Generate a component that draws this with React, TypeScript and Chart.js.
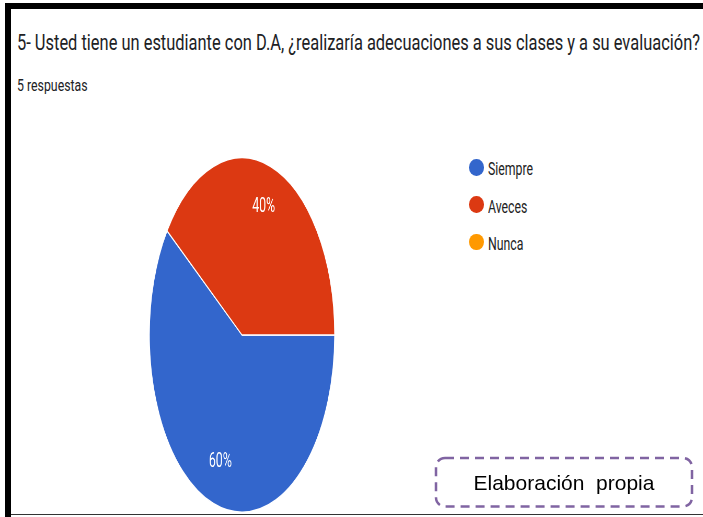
import React, { useEffect, useRef } from "react";
import { Chart, registerables } from "chart.js";

Chart.register(...registerables);

const titleText = "5- Usted tiene un estudiante con D.A, ¿realizaría adecuaciones a sus clases y a su evaluación?";
const subtitleText = "5 respuestas";
const categories = ["Siempre", "Aveces", "Nunca"];
const responses = [3, 2, 0];
const sliceColors = ["#3366cc", "#dc3912", "#ff9900"];
const sourceNote = "Elaboración  propia";

// layout constants
const PIE_RX = 92.5;
const PIE_RY = 177;
const PIE_CX = 241.5;
const PIE_CY = 335;
const PIE_SX = PIE_RX / PIE_RY;
const CANVAS = 356;
const LABEL_R = 0.757;
const LABEL_FONT = "19.5px Roboto";

let measureCtx: CanvasRenderingContext2D | null = null;
function measure(text: string, font: string): number {
  if (!measureCtx) measureCtx = document.createElement("canvas").getContext("2d");
  if (!measureCtx) return 1;
  measureCtx.font = font;
  return measureCtx.measureText(text).width || 1;
}
function fitScale(text: string, font: string, target: number) {
  return target / measure(text, font);
}

function Squeezed(props: { text: string; size: number; target: number; left: number; top: number; color: string }) {
  const font = `${props.size}px Roboto`;
  const k = fitScale(props.text, font, props.target);
  return (
    <div
      style={{
        position: "absolute",
        left: props.left,
        top: props.top,
        fontFamily: "Roboto",
        fontSize: props.size,
        lineHeight: `${props.size}px`,
        color: props.color,
        whiteSpace: "pre",
        transform: `scaleX(${k})`,
        transformOrigin: "0 0",
      }}
    >
      {props.text}
    </div>
  );
}

export default function App() {
  const canvasRef = useRef<HTMLCanvasElement | null>(null);

  useEffect(() => {
    if (!canvasRef.current) return;
    const labelScale = fitScale("40%", LABEL_FONT, 23);
    const total = responses.reduce((a, b) => a + b, 0);
    const labelPlugin = {
      id: "pctLabels",
      afterDatasetsDraw(chart: any) {
        const ctx = chart.ctx as CanvasRenderingContext2D;
        const meta = chart.getDatasetMeta(0);
        const data = chart.data.datasets[0].data as number[];
        meta.data.forEach((arc: any, i: number) => {
          const v = data[i];
          if (!v) return;
          const p = arc.getProps(["x", "y", "startAngle", "endAngle", "outerRadius"], true);
          const a = (p.startAngle + p.endAngle) / 2;
          const px = p.x + Math.cos(a) * p.outerRadius * LABEL_R;
          const py = p.y + Math.sin(a) * p.outerRadius * LABEL_R;
          ctx.save();
          ctx.translate(px, py);
          ctx.scale(labelScale / PIE_SX, 1);
          ctx.font = LABEL_FONT;
          ctx.fillStyle = "#ffffff";
          ctx.textAlign = "center";
          ctx.textBaseline = "middle";
          ctx.fillText(Math.round((v / total) * 100) + "%", 0, 0);
          ctx.restore();
        });
      },
    };
    const chart = new Chart(canvasRef.current, {
      type: "pie",
      data: {
        labels: categories,
        datasets: [
          {
            data: responses,
            backgroundColor: sliceColors,
            borderColor: "#ffffff",
            borderWidth: 1.5,
          },
        ],
      },
      options: {
        responsive: false,
        animation: false,
        rotation: 90,
        layout: { padding: 0 },
        events: [],
        plugins: {
          legend: { display: false },
          tooltip: { enabled: false },
          title: { display: false },
        },
      },
      plugins: [labelPlugin],
    });
    return () => chart.destroy();
  }, []);

  const legendTop = 167.3;
  const legendStep = 37.4;
  const legendScale = fitScale("Siempre", "18.5px Roboto", 45);

  return (
    <div style={{ position: "absolute", left: 0, top: 0, width: 703, height: 517, background: "#fff", overflow: "hidden" }}>
      {/* frame */}
      <div style={{ position: "absolute", left: 5, top: 3, width: 698, height: 6, background: "#000" }} />
      <div style={{ position: "absolute", left: 5, top: 3, width: 6, height: 514, background: "#000" }} />
      <div style={{ position: "absolute", left: 11, top: 514, width: 692, height: 1, background: "#333" }} />

      <Squeezed text={titleText} size={22} target={683} left={16.7} top={32.2} color="#202124" />
      <Squeezed text={subtitleText} size={16.5} target={70.6} left={16.7} top={77.8} color="#202124" />

      <canvas
        ref={canvasRef}
        width={CANVAS}
        height={CANVAS}
        style={{
          position: "absolute",
          left: PIE_CX - CANVAS / 2,
          top: PIE_CY - CANVAS / 2,
          transform: `scaleX(${PIE_SX})`,
          transformOrigin: "50% 50%",
        }}
      />

      {categories.map((c, i) => (
        <React.Fragment key={c}>
          <div
            style={{
              position: "absolute",
              left: 469.4,
              top: legendTop + i * legendStep - 8.3,
              width: 14.6,
              height: 16.6,
              borderRadius: "50%",
              background: sliceColors[i],
            }}
          />
          <div
            style={{
              position: "absolute",
              left: 488,
              top: legendTop + i * legendStep + 8.4 - 0.8418 * 18.5,
              fontFamily: "Roboto",
              fontSize: 18.5,
              lineHeight: "18.5px",
              color: "#222",
              whiteSpace: "pre",
              transform: `scaleX(${legendScale})`,
              transformOrigin: "0 0",
            }}
          >
            {c}
          </div>
        </React.Fragment>
      ))}

      <svg style={{ position: "absolute", left: 0, top: 0 }} width={703} height={517}>
        <rect x={436} y={458} width={256} height={48.5} rx={9} ry={9} fill="#fff" stroke="#8064a2" strokeWidth={2.5} strokeDasharray="9 6" />
      </svg>
      <div
        style={{
          position: "absolute",
          left: 436,
          width: 256,
          top: 472.2,
          textAlign: "center",
          fontFamily: "'Liberation Sans', Arial, sans-serif",
          fontSize: 21,
          lineHeight: "21px",
          color: "#000",
          whiteSpace: "pre",
        }}
      >
        {sourceNote}
      </div>
    </div>
  );
}
